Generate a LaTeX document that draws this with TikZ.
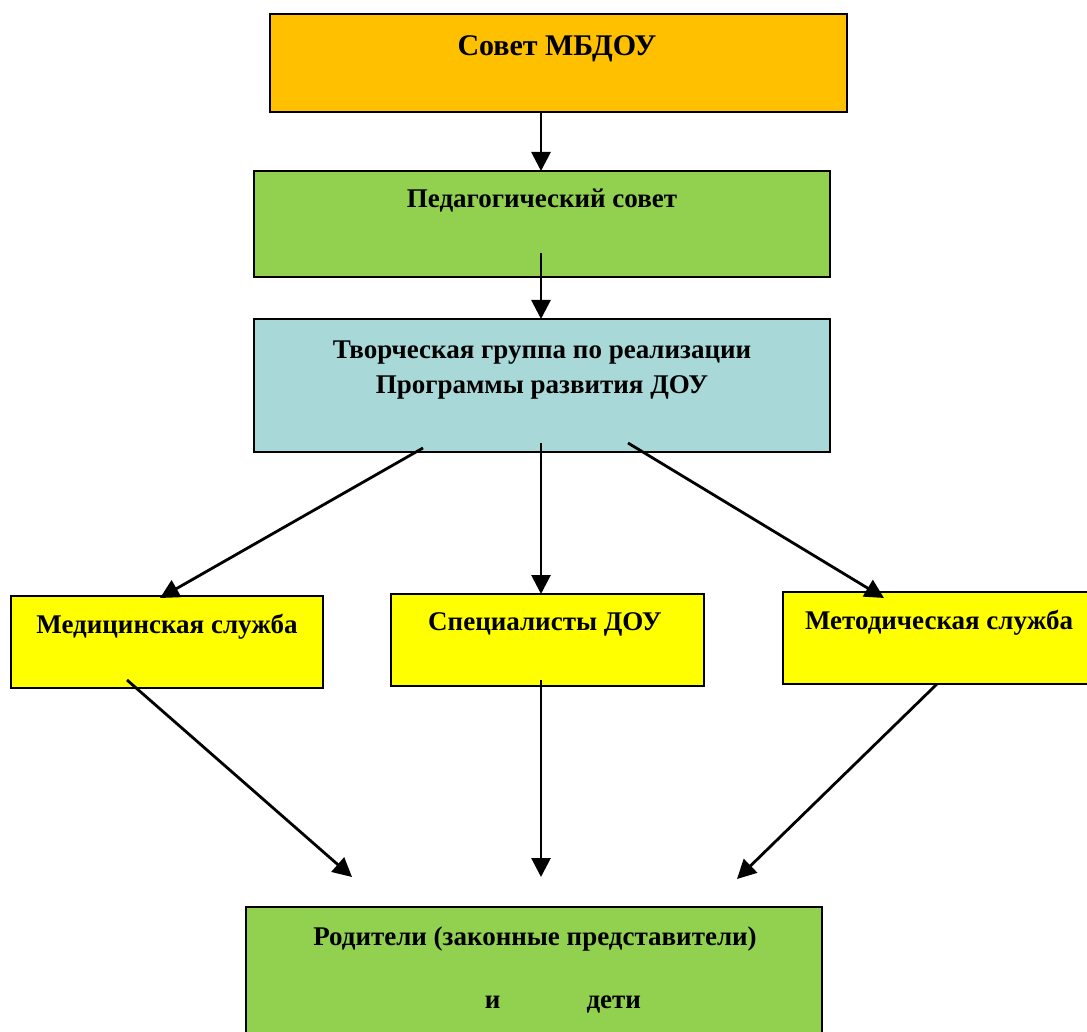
\documentclass[tikz,border=0pt]{standalone}
\usepackage{fontspec}
\setmainfont{Liberation Serif}
\usetikzlibrary{arrows.meta}
\definecolor{cOrange}{HTML}{FFC000}
\definecolor{cGreen}{HTML}{92D050}
\definecolor{cTeal}{HTML}{A9D8D8}
\definecolor{cYellow}{HTML}{FFFF00}
\tikzset{
  box/.style={draw=black, line width=2pt, rectangle, anchor=north west, inner sep=0pt, outer sep=0pt},
  lbl/.style={font=\fontsize{27}{31}\selectfont\bfseries, inner sep=0pt, anchor=base},
  arr/.style={line width=2.8pt, -{Triangle[length=19pt,width=19pt]}},
}
\begin{document}
\begin{tikzpicture}[x=1pt,y=-1pt]
\useasboundingbox (0,0) rectangle (1087,1032);
% boxes
\node[box, fill=cOrange, minimum width=577, minimum height=98] (sov) at (270,14) {};
\node[box, fill=cGreen, minimum width=576, minimum height=106] (ped) at (254,171) {};
\node[box, fill=cTeal, minimum width=576, minimum height=133] (tvg) at (254,319) {};
\node[box, fill=cYellow, minimum width=312, minimum height=92] (med) at (11,596) {};
\node[box, fill=cYellow, minimum width=313, minimum height=92] (spc) at (391,594) {};
\node[box, fill=cYellow, minimum width=310, minimum height=92] (met) at (783,592) {};
\node[box, fill=cGreen, minimum width=576, minimum height=140] (rod) at (246,907) {};
% labels
\node[lbl, font=\fontsize{30}{34}\selectfont\bfseries] (tsov) at (557,56) {Совет МБДОУ};
\node[lbl] (tped) at (542,208) {Педагогический совет};
\node[lbl] (ttvg1) at (542,358) {Творческая группа по реализации};
\node[lbl] (ttvg2) at (542,393) {Программы развития ДОУ};
\node[lbl] (tmed) at (167,633) {Медицинская служба};
\node[lbl] (tspc) at (545,630) {Специалисты ДОУ};
\node[lbl] (tmet) at (939,629) {Методическая служба};
\node[lbl] (trod) at (535,945) {Родители (законные представители)};
\node[lbl] (trod2) at (563,1008) {и\hspace{86pt}дети};
% connector end points
\coordinate (p1) at (541,253);
\coordinate (c1) at (423,448);
\coordinate (c2) at (541,443);
\coordinate (c3) at (628,443);
\coordinate (m1) at (127,680);
\coordinate (s1) at (541,680);
\coordinate (e1) at (937,684);
\coordinate (r1) at (352,877);
\coordinate (r2) at (541,877);
\coordinate (r3) at (737,879);
\coordinate (mt) at (160,598);
\coordinate (et) at (884,598);
% connectors
\draw[arr] (sov.south -| p1) -- (ped.north -| p1);
\draw[arr] (p1) -- (tvg.north -| p1);
\draw[arr] (c1) -- (mt);
\draw[arr] (c2) -- (spc.north -| c2);
\draw[arr] (c3) -- (et);
\draw[arr] (m1) -- (r1);
\draw[arr] (s1) -- (r2);
\draw[arr] (e1) -- (r3);
\end{tikzpicture}
\end{document}
